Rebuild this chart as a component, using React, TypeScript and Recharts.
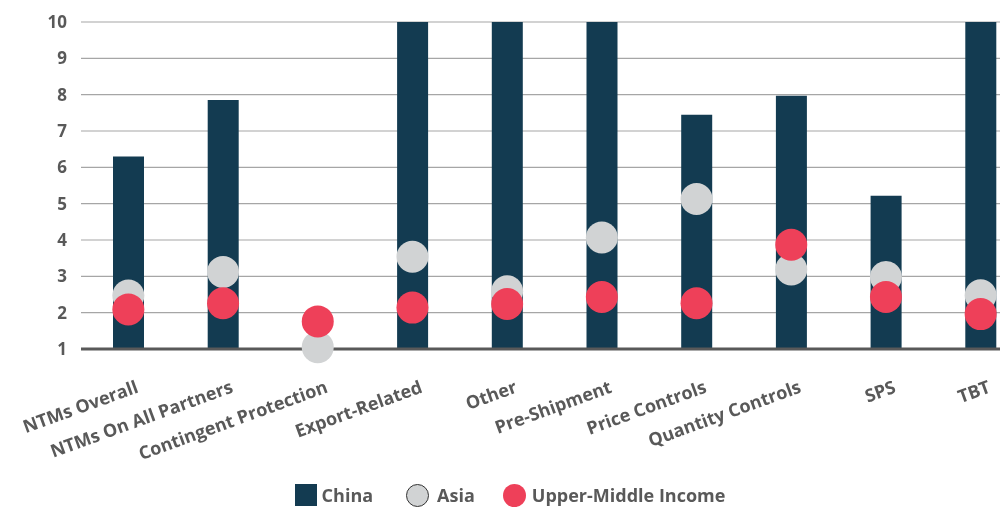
import React from 'react';
import { ComposedChart, Bar, Line, XAxis, YAxis, CartesianGrid, Legend } from 'recharts';

const categories = ['NTMs Overall', 'NTMs On All Partners', 'Contingent Protection', 'Export-Related', 'Other', 'Pre-Shipment', 'Price Controls', 'Quantity Controls', 'SPS', 'TBT'];
const china: (number | null)[] = [6.3, 7.85, null, 10, 10, 10, 7.45, 7.97, 5.22, 10];
const asia: number[] = [2.47, 3.12, 1.05, 3.54, 2.59, 4.07, 5.13, 3.19, 2.98, 2.48];
const upperMiddle: number[] = [2.09, 2.26, 1.76, 2.14, 2.24, 2.43, 2.26, 3.87, 2.43, 1.96];
const yTicks = [1, 2, 3, 4, 5, 6, 7, 8, 9, 10];

const data = categories.map((name, i) => ({ name, china: china[i], asia: asia[i], umi: upperMiddle[i] }));

const FONT = '"Open Sans", Lato, sans-serif';
const TEXT = '#595959';
const NAVY = '#133B51';
const GRAY = '#D1D3D4';
const RED = '#EE4059';

const XTick = (props: any) => {
  const { x, y, payload } = props;
  return (
    <g transform={`translate(${x + 11},${y + 35})`}>
      <text textAnchor="end" transform="rotate(-20)" fill={TEXT} fontFamily={FONT} fontWeight={700} fontSize={18}>
        {payload.value}
      </text>
    </g>
  );
};

const LegendContent = () => (
  <div style={{ display: 'flex', justifyContent: 'center', alignItems: 'center', height: 30, fontFamily: FONT, fontWeight: 700, fontSize: 18, color: TEXT }}>
    <span style={{ width: 22, height: 22, background: NAVY, display: 'inline-block', marginRight: 5 }} />
    <span style={{ marginRight: 33 }}>China</span>
    <span style={{ width: 21, height: 21, background: GRAY, borderRadius: '50%', border: '1.5px solid #333', display: 'inline-block', marginRight: 8 }} />
    <span style={{ marginRight: 28 }}>Asia</span>
    <span style={{ width: 23, height: 23, background: RED, borderRadius: '50%', display: 'inline-block', marginRight: 6 }} />
    <span>Upper-Middle Income</span>
  </div>
);

export default function App() {
  return (
    <div style={{ width: 992, height: 504, position: 'relative', overflow: 'hidden' }}>
      <style>{'html,body{overflow:hidden;}'}</style>
      <div style={{ position: 'fixed', left: 8, top: 8, width: 992, height: 504, overflow: 'hidden' }}>
        <ComposedChart width={1030} height={504} data={data} margin={{ top: 14, right: 10, left: 0, bottom: 0 }}>
          <CartesianGrid horizontal vertical={false} stroke="#A6A6A6" strokeWidth={1.2} />
          <XAxis dataKey="name" interval={0} tickLine={false} axisLine={{ stroke: TEXT, strokeWidth: 3 }} tick={<XTick />} height={133} />
          <YAxis domain={[1, 10]} ticks={yTicks} width={73} tickLine={false} axisLine={false} tickMargin={8}
            tick={{ fill: TEXT, fontFamily: FONT, fontWeight: 700, fontSize: 17 }} />
          <Legend verticalAlign="bottom" content={<LegendContent />} wrapperStyle={{ left: 0, width: 1004, top: 472, bottom: 'auto' }} />
          <Bar dataKey="china" fill={NAVY} barSize={31} isAnimationActive={false} />
          <Line dataKey="asia" stroke="none" strokeWidth={0} dot={{ r: 16, fill: GRAY, stroke: 'none', strokeWidth: 0 }} activeDot={false} isAnimationActive={false} />
          <Line dataKey="umi" stroke="none" strokeWidth={0} dot={{ r: 16, fill: RED, stroke: 'none', strokeWidth: 0 }} activeDot={false} isAnimationActive={false} />
        </ComposedChart>
      </div>
    </div>
  );
}
